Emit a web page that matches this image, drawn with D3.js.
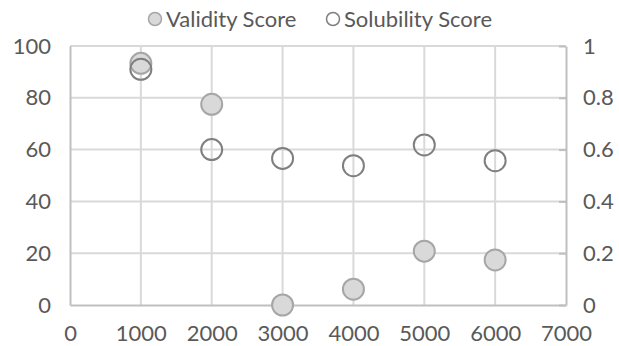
<!DOCTYPE html>
<html>
<head>
<meta charset="utf-8">
<script src="https://cdn.jsdelivr.net/npm/d3@7/dist/d3.min.js"></script>
<style>
  html, body { margin: 0; padding: 0; background: #fff; }
  svg { display: block; font-family: Lato, "Open Sans", sans-serif; }
</style>
</head>
<body>
<svg id="chart" width="619" height="346"></svg>
<script>
// Training steps on the x axis
const steps = [1000, 2000, 3000, 4000, 5000, 6000];
// Validity score (left axis, 0–100)
const validityScore = [93.3, 77.5, 0, 6.1, 20.8, 17.4];
// Solubility score (right axis, 0–1)
const solubilityScore = [0.91, 0.60, 0.566, 0.538, 0.618, 0.557];

const xTicks = [0, 1000, 2000, 3000, 4000, 5000, 6000, 7000];
const leftTicks = [0, 20, 40, 60, 80, 100];
const rightTicks = [0, 0.2, 0.4, 0.6, 0.8, 1];

const svg = d3.select("#chart");
const plot = { left: 70, right: 566, top: 46, bottom: 305 };
const fontSize = "22px";

const x = d3.scaleLinear().domain([0, 7000]).range([plot.left, plot.right]);
const yL = d3.scaleLinear().domain([0, 100]).range([plot.bottom, plot.top]);
const yR = d3.scaleLinear().domain([0, 1]).range([plot.bottom, plot.top]);

const textColor = "#595959";
const gridColor = "#d9d9d9";
const axisColor = "#bfbfbf";

// Horizontal gridlines
svg.append("g")
  .selectAll("line")
  .data(leftTicks.filter(d => d > 0))
  .join("line")
  .attr("x1", plot.left).attr("x2", plot.right)
  .attr("y1", d => yL(d)).attr("y2", d => yL(d))
  .attr("stroke", gridColor).attr("stroke-width", 2);

// Vertical gridlines
svg.append("g")
  .selectAll("line")
  .data(xTicks.filter(d => d > 0 && d < 7000))
  .join("line")
  .attr("x1", d => x(d)).attr("x2", d => x(d))
  .attr("y1", plot.top).attr("y2", plot.bottom)
  .attr("stroke", gridColor).attr("stroke-width", 2);

// Left axis: vertical line and labels
const leftAxis = svg.append("g")
  .attr("transform", `translate(${plot.left},0)`)
  .call(d3.axisLeft(yL).tickValues(leftTicks).tickSize(0).tickPadding(19).tickFormat(d3.format("d")));
leftAxis.select(".domain").attr("stroke", axisColor).attr("stroke-width", 2);

// Right axis with short inward ticks
const rightAxis = svg.append("g")
  .attr("transform", `translate(${plot.right},0)`)
  .call(d3.axisRight(yR).tickValues(rightTicks).tickSizeInner(-7).tickSizeOuter(0).tickPadding(24)
    .tickFormat(d => String(+d.toFixed(1))));
rightAxis.select(".domain").attr("stroke", axisColor).attr("stroke-width", 2);
rightAxis.selectAll(".tick line").attr("stroke", axisColor).attr("stroke-width", 2);

// Bottom axis
const bottomAxis = svg.append("g")
  .attr("transform", `translate(0,${plot.bottom})`)
  .call(d3.axisBottom(x).tickValues(xTicks).tickSize(0).tickPadding(20).tickFormat(d3.format("d")));
bottomAxis.select(".domain").attr("stroke", axisColor).attr("stroke-width", 2);

svg.selectAll(".tick text")
  .attr("fill", textColor)
  .style("font-size", fontSize)
  .style("font-family", "Lato, 'Open Sans', sans-serif");
rightAxis.selectAll(".tick text").attr("text-anchor", "start").attr("x", 17);

// Validity points
svg.append("g")
  .selectAll("circle")
  .data(steps.map((s, i) => ({ s, v: validityScore[i] })))
  .join("circle")
  .attr("cx", d => x(d.s)).attr("cy", d => yL(d.v))
  .attr("r", 10.5)
  .attr("fill", "#d9d9d9").attr("stroke", "#a6a6a6").attr("stroke-width", 2);

// Solubility points
svg.append("g")
  .selectAll("circle")
  .data(steps.map((s, i) => ({ s, v: solubilityScore[i] })))
  .join("circle")
  .attr("cx", d => x(d.s)).attr("cy", d => yR(d.v))
  .attr("r", 10.5)
  .attr("fill", "none").attr("stroke", "#7f7f7f").attr("stroke-width", 2);

// Legend
const legend = svg.append("g").attr("transform", "translate(0,19)");
const items = [
  { label: "Validity Score", x: 155, fill: "#d9d9d9", stroke: "#a6a6a6" },
  { label: "Solubility Score", x: 333, fill: "none", stroke: "#7f7f7f" }
];
items.forEach(it => {
  legend.append("circle").attr("cx", it.x).attr("cy", 0).attr("r", 6.5)
    .attr("fill", it.fill).attr("stroke", it.stroke).attr("stroke-width", 1.5);
  legend.append("text").attr("x", it.x + 11).attr("y", 0).attr("dy", "0.35em")
    .attr("fill", textColor).style("font-size", fontSize).text(it.label);
});
</script>
</body>
</html>
